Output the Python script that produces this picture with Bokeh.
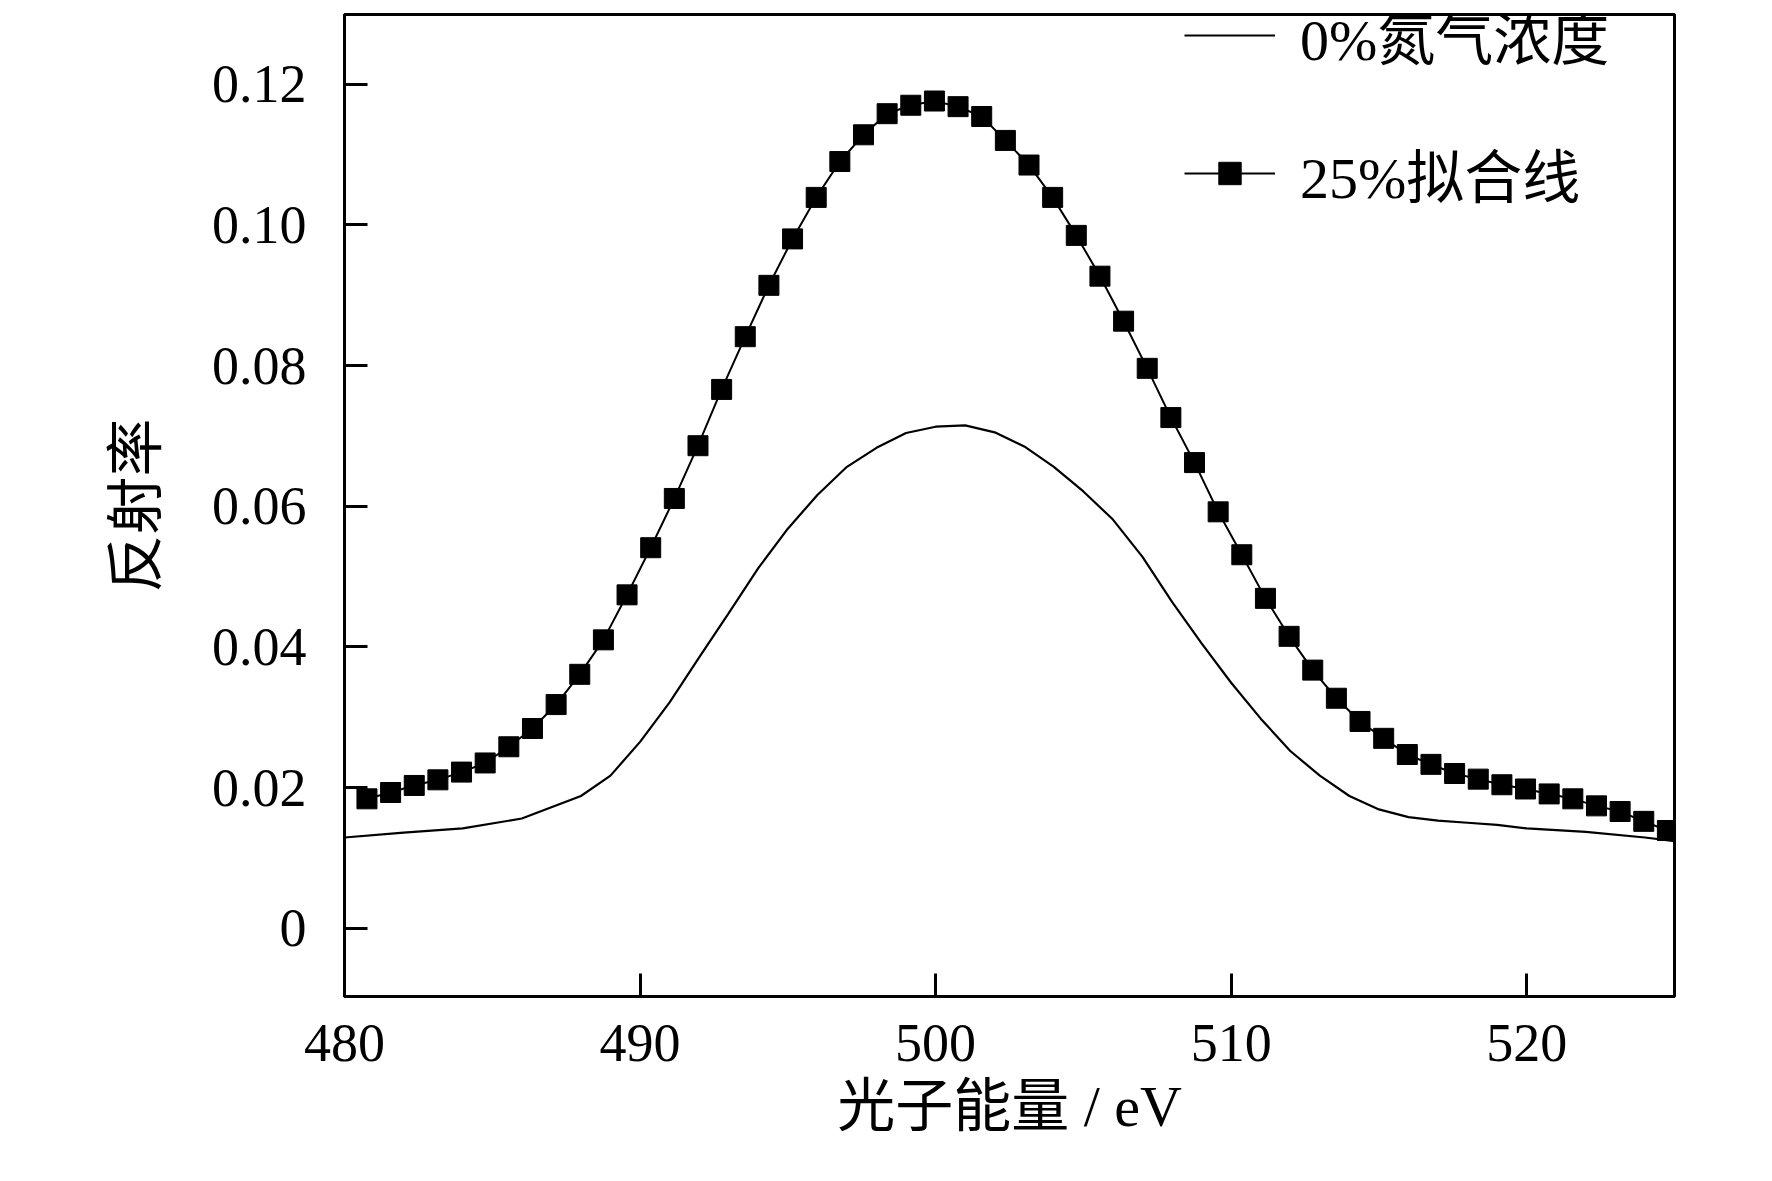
from bokeh.plotting import figure
from bokeh.models import FixedTicker, Range1d, Legend, LegendItem
from bokeh.embed import file_html
from bokeh.resources import INLINE

fit_x0 = 480.76
fit_step = 0.8
fit_y = [0.0184,0.0193,0.0203,0.0211,0.0222,0.0235,0.0258,0.0284,0.0318,0.0361,
         0.0410,0.0474,0.0541,0.0611,0.0686,0.0766,0.0841,0.0914,0.0980,0.1039,
         0.1090,0.1128,0.1158,0.1170,0.1176,0.1168,0.1154,0.1120,0.1085,0.1039,
         0.0985,0.0927,0.0863,0.0796,0.0726,0.0662,0.0592,0.0531,0.0469,0.0415,
         0.0367,0.0327,0.0294,0.0270,0.0247,0.0233,0.0220,0.0212,0.0204,0.0198,
         0.0191,0.0184,0.0174,0.0166,0.0152,0.0139]
fit_x = [round(fit_x0 + fit_step*i, 2) for i in range(len(fit_y))]

line_x = [480,482,484,486,488,489,490,491,492,493,494,495,496,497,498,499,500,501,502,503,
          504,505,506,507,508,509,510,511,512,513,514,515,516,517,518,519,520,522,524,525]
line_y = [0.0129,0.0136,0.0142,0.0156,0.0188,0.0217,0.0265,0.0321,0.0385,0.0448,0.0512,
          0.0568,0.0616,0.0656,0.0683,0.0704,0.0713,0.0715,0.0705,0.0685,0.0656,0.0621,
          0.0581,0.0528,0.0464,0.0405,0.0349,0.0298,0.0252,0.0217,0.0188,0.0169,0.0158,
          0.0153,0.0150,0.0147,0.0142,0.0137,0.0129,0.0124]

x_ticks = [480, 490, 500, 510, 520]
y_ticks = [0, 0.02, 0.04, 0.06, 0.08, 0.10, 0.12]
y_labels = ["0", "0.02", "0.04", "0.06", "0.08", "0.10", "0.12"]

FONT = "Liberation Serif, Noto Sans CJK SC"

p = figure(width=1756, height=1165, output_backend="svg", toolbar_location=None,
           x_range=Range1d(480, 525), y_range=Range1d(-0.0097, 0.1299),
           min_border_left=344, min_border_right=82, min_border_top=14, min_border_bottom=169)
p.xgrid.visible = False
p.ygrid.visible = False
p.outline_line_color = "black"
p.outline_line_width = 3

r1 = p.line(line_x, line_y, line_color="black", line_width=2.2)
r2 = p.line(fit_x, fit_y, line_color="black", line_width=2)
r3 = p.scatter(fit_x, fit_y, marker="square", size=20, fill_color="black", line_color="black")

for ax in (p.xaxis[0], p.yaxis[0]):
    ax.axis_line_width = 3
    ax.major_tick_line_width = 3
    ax.major_tick_in = 23
    ax.major_tick_out = 0
    ax.minor_tick_in = 0
    ax.minor_tick_out = 0
    ax.major_label_text_font = FONT
    ax.major_label_text_font_size = "54px"
    ax.major_label_text_color = "black"
    ax.axis_label_text_font = FONT
    ax.axis_label_text_font_size = "58px"
    ax.axis_label_text_font_style = "normal"
    ax.axis_label_text_color = "black"

p.xaxis[0].ticker = FixedTicker(ticks=x_ticks)
p.yaxis[0].ticker = FixedTicker(ticks=y_ticks)
p.yaxis[0].major_label_overrides = {t: l for t, l in zip(y_ticks, y_labels)}
p.xaxis[0].major_label_standoff = 28
p.yaxis[0].major_label_standoff = 38
p.xaxis[0].axis_label = "光子能量 / eV"
p.yaxis[0].axis_label = "反射率"
p.xaxis[0].axis_label_standoff = 10
p.yaxis[0].axis_label_standoff = 40

legend = Legend(items=[LegendItem(label="0%氮气浓度", renderers=[r1]),
                       LegendItem(label="25%拟合线", renderers=[r2, r3])],
                location=(840, 781), padding=0, margin=0, spacing=54,
                glyph_width=91, glyph_height=56, label_height=56, label_standoff=25,
                label_text_font=FONT, label_text_font_size="58px", label_text_color="black",
                border_line_color=None, background_fill_alpha=0)
p.add_layout(legend)

open("out.html", "w").write(file_html(p, INLINE))
